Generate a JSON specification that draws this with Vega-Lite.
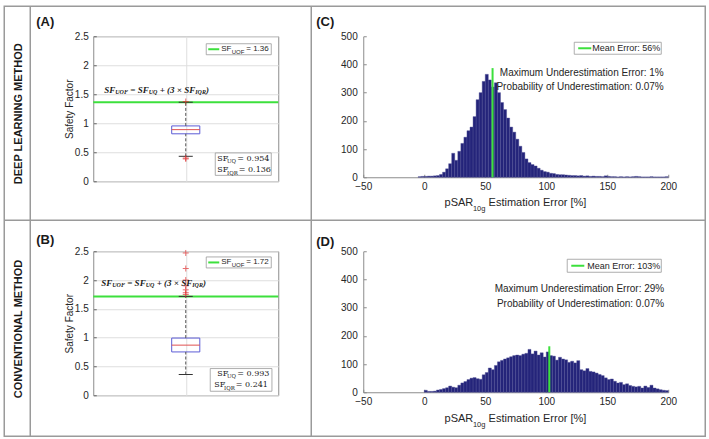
{
"$schema": "https://vega.github.io/schema/vega-lite/v6.json",
"background": "white",
"padding": {"left": 2.25, "top": 4.25, "right": 0, "bottom": 0},
"bounds": "flush",
"align": "each",
"columns": 2,
"spacing": {"row": 70, "column": 85},
"config": {"view": {"stroke": null}, "text": {"font": "Liberation Sans"}, "axis": {"labelOverlap": false}},
"datasets": {
"boxA": [{"q1": 0.818, "med": 0.89, "q3": 0.954, "lo": 0.43, "hi": 1.362}],
"boxB": [{"q1": 0.752, "med": 0.87, "q3": 0.993, "lo": 0.36, "hi": 1.716}],
"outA": [{"v": 1.375}, {"v": 0.4}, {"v": 0.385}],
"outB": [{"v": 1.75}, {"v": 1.78}, {"v": 1.83}, {"v": 1.9}, {"v": 2.0}, {"v": 2.2}, {"v": 2.47}],
"histC": [{"lo":-5,"hi":-2.5,"n":2},{"lo":-2.5,"hi":0,"n":3},{"lo":0,"hi":2.5,"n":3},{"lo":2.5,"hi":5,"n":4},{"lo":5,"hi":7.5,"n":4},{"lo":7.5,"hi":10,"n":5},{"lo":10,"hi":12.5,"n":6},{"lo":12.5,"hi":15,"n":10},{"lo":15,"hi":17.5,"n":18},{"lo":17.5,"hi":20,"n":30},{"lo":20,"hi":22.5,"n":48},{"lo":22.5,"hi":25,"n":85},{"lo":25,"hi":27.5,"n":60},{"lo":27.5,"hi":30,"n":92},{"lo":30,"hi":32.5,"n":120},{"lo":32.5,"hi":35,"n":142},{"lo":35,"hi":37.5,"n":165},{"lo":37.5,"hi":40,"n":178},{"lo":40,"hi":42.5,"n":215},{"lo":42.5,"hi":45,"n":275},{"lo":45,"hi":47.5,"n":300},{"lo":47.5,"hi":50,"n":340},{"lo":50,"hi":52.5,"n":365},{"lo":52.5,"hi":55,"n":345},{"lo":55,"hi":57.5,"n":320},{"lo":57.5,"hi":60,"n":335},{"lo":60,"hi":62.5,"n":300},{"lo":62.5,"hi":65,"n":265},{"lo":65,"hi":67.5,"n":240},{"lo":67.5,"hi":70,"n":210},{"lo":70,"hi":72.5,"n":178},{"lo":72.5,"hi":75,"n":160},{"lo":75,"hi":77.5,"n":135},{"lo":77.5,"hi":80,"n":110},{"lo":80,"hi":82.5,"n":88},{"lo":82.5,"hi":85,"n":65},{"lo":85,"hi":87.5,"n":52},{"lo":87.5,"hi":90,"n":45},{"lo":90,"hi":92.5,"n":40},{"lo":92.5,"hi":95,"n":32},{"lo":95,"hi":97.5,"n":25},{"lo":97.5,"hi":100,"n":20},{"lo":100,"hi":102.5,"n":18},{"lo":102.5,"hi":105,"n":14},{"lo":105,"hi":107.5,"n":13},{"lo":107.5,"hi":110,"n":10},{"lo":110,"hi":112.5,"n":9},{"lo":112.5,"hi":115,"n":9},{"lo":115,"hi":117.5,"n":8},{"lo":117.5,"hi":120,"n":7},{"lo":120,"hi":122.5,"n":6},{"lo":122.5,"hi":125,"n":6},{"lo":125,"hi":127.5,"n":5},{"lo":127.5,"hi":130,"n":6},{"lo":130,"hi":132.5,"n":4},{"lo":132.5,"hi":135,"n":5},{"lo":135,"hi":137.5,"n":3},{"lo":137.5,"hi":140,"n":4},{"lo":140,"hi":142.5,"n":3},{"lo":142.5,"hi":145,"n":3},{"lo":145,"hi":147.5,"n":2},{"lo":147.5,"hi":150,"n":5},{"lo":150,"hi":152.5,"n":3},{"lo":152.5,"hi":155,"n":2},{"lo":155,"hi":157.5,"n":2},{"lo":157.5,"hi":160,"n":1},{"lo":160,"hi":162.5,"n":2},{"lo":162.5,"hi":165,"n":1},{"lo":165,"hi":167.5,"n":2},{"lo":167.5,"hi":170,"n":1},{"lo":170,"hi":172.5,"n":2},{"lo":172.5,"hi":175,"n":3},{"lo":175,"hi":177.5,"n":2},{"lo":177.5,"hi":180,"n":1},{"lo":180,"hi":182.5,"n":1},{"lo":182.5,"hi":185,"n":1},{"lo":185,"hi":187.5,"n":2},{"lo":187.5,"hi":190,"n":1},{"lo":190,"hi":192.5,"n":1},{"lo":192.5,"hi":195,"n":1},{"lo":195,"hi":197.5,"n":1},{"lo":197.5,"hi":200,"n":2}],
"histD": [{"lo":0,"hi":2.5,"n":7},{"lo":2.5,"hi":5,"n":3},{"lo":5,"hi":7.5,"n":3},{"lo":7.5,"hi":10,"n":4},{"lo":10,"hi":12.5,"n":8},{"lo":12.5,"hi":15,"n":10},{"lo":15,"hi":17.5,"n":13},{"lo":17.5,"hi":20,"n":16},{"lo":20,"hi":22.5,"n":22},{"lo":22.5,"hi":25,"n":18},{"lo":25,"hi":27.5,"n":16},{"lo":27.5,"hi":30,"n":25},{"lo":30,"hi":32.5,"n":33},{"lo":32.5,"hi":35,"n":38},{"lo":35,"hi":37.5,"n":45},{"lo":37.5,"hi":40,"n":50},{"lo":40,"hi":42.5,"n":52},{"lo":42.5,"hi":45,"n":48},{"lo":45,"hi":47.5,"n":46},{"lo":47.5,"hi":50,"n":62},{"lo":50,"hi":52.5,"n":70},{"lo":52.5,"hi":55,"n":86},{"lo":55,"hi":57.5,"n":80},{"lo":57.5,"hi":60,"n":95},{"lo":60,"hi":62.5,"n":108},{"lo":62.5,"hi":65,"n":113},{"lo":65,"hi":67.5,"n":118},{"lo":67.5,"hi":70,"n":122},{"lo":70,"hi":72.5,"n":126},{"lo":72.5,"hi":75,"n":130},{"lo":75,"hi":77.5,"n":132},{"lo":77.5,"hi":80,"n":130},{"lo":80,"hi":82.5,"n":135},{"lo":82.5,"hi":85,"n":138},{"lo":85,"hi":87.5,"n":152},{"lo":87.5,"hi":90,"n":136},{"lo":90,"hi":92.5,"n":146},{"lo":92.5,"hi":95,"n":132},{"lo":95,"hi":97.5,"n":140},{"lo":97.5,"hi":100,"n":125},{"lo":100,"hi":102.5,"n":143},{"lo":102.5,"hi":105,"n":130},{"lo":105,"hi":107.5,"n":128},{"lo":107.5,"hi":110,"n":114},{"lo":110,"hi":112.5,"n":124},{"lo":112.5,"hi":115,"n":118},{"lo":115,"hi":117.5,"n":115},{"lo":117.5,"hi":120,"n":106},{"lo":120,"hi":122.5,"n":110},{"lo":122.5,"hi":125,"n":104},{"lo":125,"hi":127.5,"n":112},{"lo":127.5,"hi":130,"n":80},{"lo":130,"hi":132.5,"n":76},{"lo":132.5,"hi":135,"n":84},{"lo":135,"hi":137.5,"n":74},{"lo":137.5,"hi":140,"n":72},{"lo":140,"hi":142.5,"n":68},{"lo":142.5,"hi":145,"n":63},{"lo":145,"hi":147.5,"n":59},{"lo":147.5,"hi":150,"n":51},{"lo":150,"hi":152.5,"n":45},{"lo":152.5,"hi":155,"n":47},{"lo":155,"hi":157.5,"n":39},{"lo":157.5,"hi":160,"n":33},{"lo":160,"hi":162.5,"n":35},{"lo":162.5,"hi":165,"n":27},{"lo":165,"hi":167.5,"n":30},{"lo":167.5,"hi":170,"n":24},{"lo":170,"hi":172.5,"n":21},{"lo":172.5,"hi":175,"n":19},{"lo":175,"hi":177.5,"n":21},{"lo":177.5,"hi":180,"n":15},{"lo":180,"hi":182.5,"n":22},{"lo":182.5,"hi":185,"n":17},{"lo":185,"hi":187.5,"n":25},{"lo":187.5,"hi":190,"n":15},{"lo":190,"hi":192.5,"n":12},{"lo":192.5,"hi":195,"n":9},{"lo":195,"hi":197.5,"n":7},{"lo":197.5,"hi":200,"n":6}]
},
"concat": [
{
"width": 185, "height": 145,
"view": {"stroke": "#8c8c8c", "strokeWidth": 1},
"data": {"values": [{}]},
"layer": [
{"mark": {"type": "rule", "color": "#3ce03c", "strokeWidth": 2},
 "encoding": {
  "x": {"datum": 0, "type": "quantitative", "scale": {"domain": [0, 1], "nice": false, "zero": false}, "axis": {"values": [0.5], "tickCount": 20, "grid": true, "gridColor": "#dedede", "labels": false, "ticks": false, "domain": false, "title": null}},
  "x2": {"datum": 1},
  "y": {"datum": 1.362, "type": "quantitative", "scale": {"domain": [0, 2.5], "nice": false, "zero": false}, "axis": {"values": [0, 0.5, 1, 1.5, 2, 2.5], "tickCount": 20, "format": ".1~f", "grid": true, "gridColor": "#dedede", "domain": false, "tickSize": -3, "tickColor": "#666666", "labelPadding": 8, "labelFlush": false, "labelOverlap": false, "labelFont": "Liberation Sans", "labelFontSize": 10, "labelColor": "#262626", "title": "Safety Factor", "titleFont": "Liberation Sans", "titleFontSize": 10, "titleFontWeight": "normal", "titleColor": "#262626", "titlePadding": 0}}
 }},
{"data": {"name": "boxA"}, "mark": {"type": "rect", "fillOpacity": 0, "stroke": "#5c5cd6", "strokeWidth": 1},
 "encoding": {"x": {"datum": 0.424, "type": "quantitative"}, "x2": {"datum": 0.576}, "y": {"field": "q1", "type": "quantitative"}, "y2": {"field": "q3"}}},
{"data": {"name": "boxA"}, "mark": {"type": "rule", "color": "#e05050", "strokeWidth": 1},
 "encoding": {"x": {"datum": 0.424, "type": "quantitative"}, "x2": {"datum": 0.576}, "y": {"field": "med", "type": "quantitative"}}},
{"data": {"name": "boxA"}, "mark": {"type": "rule", "color": "#555555", "strokeWidth": 1, "strokeDash": [3, 2]},
 "encoding": {"x": {"datum": 0.5, "type": "quantitative"}, "y": {"field": "q3", "type": "quantitative"}, "y2": {"field": "hi"}}},
{"data": {"name": "boxA"}, "mark": {"type": "rule", "color": "#555555", "strokeWidth": 1, "strokeDash": [3, 2]},
 "encoding": {"x": {"datum": 0.5, "type": "quantitative"}, "y": {"field": "lo", "type": "quantitative"}, "y2": {"field": "q1"}}},
{"data": {"name": "boxA"}, "mark": {"type": "rule", "color": "#333333", "strokeWidth": 1},
 "encoding": {"x": {"datum": 0.462, "type": "quantitative"}, "x2": {"datum": 0.538}, "y": {"field": "hi", "type": "quantitative"}}},
{"data": {"name": "boxA"}, "mark": {"type": "rule", "color": "#333333", "strokeWidth": 1},
 "encoding": {"x": {"datum": 0.462, "type": "quantitative"}, "x2": {"datum": 0.538}, "y": {"field": "lo", "type": "quantitative"}}},
{"data": {"name": "outA"}, "mark": {"type": "point", "shape": "M-1,0H1M0,-1V1", "size": 36, "filled": false, "color": "#e03030", "strokeWidth": 1},
 "encoding": {"x": {"datum": 0.5, "type": "quantitative"}, "y": {"field": "v", "type": "quantitative"}}},
{"mark": {"type": "text", "text": "SF", "align": "left", "baseline": "middle", "font": "Liberation Serif", "fontSize": 9, "fontStyle": "italic", "fontWeight": "bold", "color": "#1a1a1a", "dx": 0},
 "encoding": {"x": {"datum": 0.0595, "type": "quantitative"}, "y": {"datum": 1.581, "type": "quantitative"}}},
{"mark": {"type": "text", "text": "UOF", "align": "left", "baseline": "middle", "font": "Liberation Serif", "fontSize": 6, "fontStyle": "italic", "fontWeight": "bold", "color": "#1a1a1a", "dx": 11, "dy": 2.5},
 "encoding": {"x": {"datum": 0.0595, "type": "quantitative"}, "y": {"datum": 1.581, "type": "quantitative"}}},
{"mark": {"type": "text", "text": "= SF", "align": "left", "baseline": "middle", "font": "Liberation Serif", "fontSize": 9, "fontStyle": "italic", "fontWeight": "bold", "color": "#1a1a1a", "dx": 26},
 "encoding": {"x": {"datum": 0.0595, "type": "quantitative"}, "y": {"datum": 1.581, "type": "quantitative"}}},
{"mark": {"type": "text", "text": "UQ", "align": "left", "baseline": "middle", "font": "Liberation Serif", "fontSize": 6, "fontStyle": "italic", "fontWeight": "bold", "color": "#1a1a1a", "dx": 44.5, "dy": 2.5},
 "encoding": {"x": {"datum": 0.0595, "type": "quantitative"}, "y": {"datum": 1.581, "type": "quantitative"}}},
{"mark": {"type": "text", "text": "+ (3 × SF", "align": "left", "baseline": "middle", "font": "Liberation Serif", "fontSize": 9, "fontStyle": "italic", "fontWeight": "bold", "color": "#1a1a1a", "dx": 55.4},
 "encoding": {"x": {"datum": 0.0595, "type": "quantitative"}, "y": {"datum": 1.581, "type": "quantitative"}}},
{"mark": {"type": "text", "text": "IQR", "align": "left", "baseline": "middle", "font": "Liberation Serif", "fontSize": 6, "fontStyle": "italic", "fontWeight": "bold", "color": "#1a1a1a", "dx": 91, "dy": 2.5},
 "encoding": {"x": {"datum": 0.0595, "type": "quantitative"}, "y": {"datum": 1.581, "type": "quantitative"}}},
{"mark": {"type": "text", "text": ")", "align": "left", "baseline": "middle", "font": "Liberation Serif", "fontSize": 9, "fontStyle": "italic", "fontWeight": "bold", "color": "#1a1a1a", "dx": 101.8},
 "encoding": {"x": {"datum": 0.0595, "type": "quantitative"}, "y": {"datum": 1.581, "type": "quantitative"}}},
{"mark": {"type": "rect", "fill": "white", "stroke": "#999999", "strokeWidth": 0.8},
 "encoding": {"x": {"datum": 0.6108, "type": "quantitative"}, "x2": {"datum": 0.9622}, "y": {"datum": 2.3708, "type": "quantitative"}, "y2": {"datum": 2.1812}}},
{"mark": {"type": "rule", "color": "#3ce03c", "strokeWidth": 2},
 "encoding": {"x": {"datum": 0.6216, "type": "quantitative"}, "x2": {"datum": 0.6811}, "y": {"datum": 2.276, "type": "quantitative"}}},
{"mark": {"type": "text", "text": "SF", "align": "left", "baseline": "middle", "fontSize": 8, "color": "#262626"},
 "encoding": {"x": {"datum": 0.6919, "type": "quantitative"}, "y": {"datum": 2.276, "type": "quantitative"}}},
{"mark": {"type": "text", "text": "UOF", "align": "left", "baseline": "middle", "fontSize": 6, "color": "#262626", "dx": 10.4, "dy": 2.5},
 "encoding": {"x": {"datum": 0.6919, "type": "quantitative"}, "y": {"datum": 2.276, "type": "quantitative"}}},
{"mark": {"type": "text", "text": "= 1.36", "align": "left", "baseline": "middle", "fontSize": 8, "color": "#262626", "dx": 25},
 "encoding": {"x": {"datum": 0.6919, "type": "quantitative"}, "y": {"datum": 2.276, "type": "quantitative"}}},
{"mark": {"type": "rect", "fill": "white", "stroke": "#999999", "strokeWidth": 0.8},
 "encoding": {"x": {"datum": 0.6595, "type": "quantitative"}, "x2": {"datum": 0.9622}, "y": {"datum": 0.4879, "type": "quantitative"}, "y2": {"datum": 0.1017}}},
{"mark": {"type": "text", "text": "SF", "align": "left", "baseline": "middle", "font": "DejaVu Serif", "fontSize": 8, "color": "#1a1a1a"},
 "encoding": {"x": {"datum": 0.6703, "type": "quantitative"}, "y": {"datum": 0.3914, "type": "quantitative"}}},
{"mark": {"type": "text", "text": "UQ", "align": "left", "baseline": "middle", "font": "DejaVu Serif", "fontSize": 5.5, "color": "#1a1a1a", "dx": 9.7, "dy": 2.5},
 "encoding": {"x": {"datum": 0.6703, "type": "quantitative"}, "y": {"datum": 0.3914, "type": "quantitative"}}},
{"mark": {"type": "text", "text": "= 0.954", "align": "left", "baseline": "middle", "font": "DejaVu Serif", "fontSize": 8, "color": "#1a1a1a", "dx": 20},
 "encoding": {"x": {"datum": 0.6703, "type": "quantitative"}, "y": {"datum": 0.3914, "type": "quantitative"}}},
{"mark": {"type": "text", "text": "SF", "align": "left", "baseline": "middle", "font": "DejaVu Serif", "fontSize": 8, "color": "#1a1a1a"},
 "encoding": {"x": {"datum": 0.6703, "type": "quantitative"}, "y": {"datum": 0.1897, "type": "quantitative"}}},
{"mark": {"type": "text", "text": "IQR", "align": "left", "baseline": "middle", "font": "DejaVu Serif", "fontSize": 5.5, "color": "#1a1a1a", "dx": 9.7, "dy": 2.5},
 "encoding": {"x": {"datum": 0.6703, "type": "quantitative"}, "y": {"datum": 0.1897, "type": "quantitative"}}},
{"mark": {"type": "text", "text": "= 0.136", "align": "left", "baseline": "middle", "font": "DejaVu Serif", "fontSize": 8, "color": "#1a1a1a", "dx": 21.5},
 "encoding": {"x": {"datum": 0.6703, "type": "quantitative"}, "y": {"datum": 0.1897, "type": "quantitative"}}},
{"mark": {"type": "rect", "fillOpacity": 0, "stroke": "#9a9a9a", "strokeWidth": 1.5},
 "encoding": {"x": {"datum": -0.4811, "type": "quantitative"}, "x2": {"datum": 3.3081}, "y": {"datum": 3.0172, "type": "quantitative"}, "y2": {"datum": -4.3966}}},
{"mark": {"type": "rule", "color": "#9a9a9a", "strokeWidth": 1.5},
 "encoding": {"x": {"datum": -0.3405, "type": "quantitative"}, "y": {"datum": 3.0172, "type": "quantitative"}, "y2": {"datum": -4.3966}}},
{"mark": {"type": "rule", "color": "#9a9a9a", "strokeWidth": 1.5},
 "encoding": {"x": {"datum": 1.1784, "type": "quantitative"}, "y": {"datum": 3.0172, "type": "quantitative"}, "y2": {"datum": -4.3966}}},
{"mark": {"type": "rule", "color": "#9a9a9a", "strokeWidth": 1.5},
 "encoding": {"x": {"datum": -0.4811, "type": "quantitative"}, "x2": {"datum": 3.3081}, "y": {"datum": -0.6724, "type": "quantitative"}}},
{"mark": {"type": "text", "text": "DEEP LEARNING METHOD", "angle": 270, "align": "center", "baseline": "middle", "fontSize": 11, "fontWeight": "bold", "color": "#1a1a1a"},
 "encoding": {"x": {"datum": -0.4016, "type": "quantitative"}, "y": {"datum": 1.1638, "type": "quantitative"}}},
{"mark": {"type": "text", "text": "CONVENTIONAL METHOD", "angle": 270, "align": "center", "baseline": "middle", "fontSize": 11, "fontWeight": "bold", "color": "#1a1a1a"},
 "encoding": {"x": {"datum": -0.4016, "type": "quantitative"}, "y": {"datum": -2.5466, "type": "quantitative"}}},
{"mark": {"type": "text", "text": "(A)", "align": "left", "baseline": "middle", "fontSize": 13, "fontWeight": "bold", "color": "#1a1a1a"},
 "encoding": {"x": {"datum": -0.3081, "type": "quantitative"}, "y": {"datum": 2.7466, "type": "quantitative"}}},
{"mark": {"type": "text", "text": "(B)", "align": "left", "baseline": "middle", "fontSize": 13, "fontWeight": "bold", "color": "#1a1a1a"},
 "encoding": {"x": {"datum": -0.3081, "type": "quantitative"}, "y": {"datum": -1.0172, "type": "quantitative"}}},
{"mark": {"type": "text", "text": "(C)", "align": "left", "baseline": "middle", "fontSize": 13, "fontWeight": "bold", "color": "#1a1a1a"},
 "encoding": {"x": {"datum": 1.2054, "type": "quantitative"}, "y": {"datum": 2.7466, "type": "quantitative"}}},
{"mark": {"type": "text", "text": "(D)", "align": "left", "baseline": "middle", "fontSize": 13, "fontWeight": "bold", "color": "#1a1a1a"},
 "encoding": {"x": {"datum": 1.2054, "type": "quantitative"}, "y": {"datum": -1.0517, "type": "quantitative"}}}
]
},
{
"width": 305, "height": 141,
"data": {"values": [{}]},
"layer": [
{"data": {"name": "histC"}, "mark": {"type": "rect", "fill": "#24247a", "stroke": "#4f4f96", "strokeWidth": 0.4},
 "encoding": {
  "x": {"field": "lo", "type": "quantitative", "scale": {"domain": [-50, 200], "nice": false, "zero": false}, "axis": {"values": [-50, 0, 50, 100, 150, 200], "tickCount": 20, "format": "d", "grid": false, "domainColor": "#8c8c8c", "tickSize": -3, "tickColor": "#8c8c8c", "labelPadding": 7, "labelFlush": false, "labelOverlap": false, "labelFont": "Liberation Sans", "labelFontSize": 10, "labelColor": "#262626", "title": null}},
  "x2": {"field": "hi"},
  "y": {"field": "n", "type": "quantitative", "scale": {"domain": [0, 500], "nice": false, "zero": false}, "axis": {"values": [0, 100, 200, 300, 400, 500], "tickCount": 20, "format": "d", "grid": false, "domainColor": "#8c8c8c", "tickSize": -3, "tickColor": "#8c8c8c", "labelPadding": 9, "labelFlush": false, "labelOverlap": false, "labelFont": "Liberation Sans", "labelFontSize": 10, "labelColor": "#262626", "title": null}},
  "y2": {"datum": 0}
 }},
{"mark": {"type": "rule", "color": "#3ce03c", "strokeWidth": 2},
 "encoding": {"x": {"datum": 56, "type": "quantitative"}, "y": {"datum": 0, "type": "quantitative"}, "y2": {"datum": 387}}},
{"mark": {"type": "rect", "fill": "white", "stroke": "#999999", "strokeWidth": 0.8},
 "encoding": {"x": {"datum": 122.95, "type": "quantitative"}, "x2": {"datum": 194.27}, "y": {"datum": 478.7, "type": "quantitative"}, "y2": {"datum": 436.2}}},
{"mark": {"type": "rule", "color": "#3ce03c", "strokeWidth": 2},
 "encoding": {"x": {"datum": 126.2, "type": "quantitative"}, "x2": {"datum": 136.9}, "y": {"datum": 457.4, "type": "quantitative"}}},
{"mark": {"type": "text", "text": "Mean Error: 56%", "align": "left", "baseline": "middle", "fontSize": 9, "color": "#262626"},
 "encoding": {"x": {"datum": 137.7, "type": "quantitative"}, "y": {"datum": 457.4, "type": "quantitative"}}},
{"mark": {"type": "text", "text": "Maximum Underestimation Error: 1%", "align": "right", "baseline": "middle", "fontSize": 10, "color": "#262626"},
 "encoding": {"x": {"datum": 196.3, "type": "quantitative"}, "y": {"datum": 369.8, "type": "quantitative"}}},
{"mark": {"type": "text", "text": "Probability of Underestimation: 0.07%", "align": "right", "baseline": "middle", "fontSize": 10, "color": "#262626"},
 "encoding": {"x": {"datum": 196.3, "type": "quantitative"}, "y": {"datum": 319.1, "type": "quantitative"}}},
{"mark": {"type": "text", "text": "pSAR", "align": "left", "baseline": "middle", "fontSize": 11, "color": "#262626"},
 "encoding": {"x": {"datum": 16.64, "type": "quantitative"}, "y": {"datum": -91.1, "type": "quantitative"}}},
{"mark": {"type": "text", "text": "10g", "align": "left", "baseline": "middle", "fontSize": 7.5, "color": "#262626"},
 "encoding": {"x": {"datum": 39.92, "type": "quantitative"}, "y": {"datum": -113.5, "type": "quantitative"}}},
{"mark": {"type": "text", "text": "Estimation Error [%]", "align": "left", "baseline": "middle", "fontSize": 11, "color": "#262626"},
 "encoding": {"x": {"datum": 52.71, "type": "quantitative"}, "y": {"datum": -91.1, "type": "quantitative"}}}
]
},
{
"width": 185, "height": 144,
"view": {"stroke": "#8c8c8c", "strokeWidth": 1},
"data": {"values": [{}]},
"layer": [
{"mark": {"type": "rule", "color": "#3ce03c", "strokeWidth": 2},
 "encoding": {
  "x": {"datum": 0, "type": "quantitative", "scale": {"domain": [0, 1], "nice": false, "zero": false}, "axis": {"values": [0.5], "tickCount": 20, "grid": true, "gridColor": "#dedede", "labels": false, "ticks": false, "domain": false, "title": null}},
  "x2": {"datum": 1},
  "y": {"datum": 1.716, "type": "quantitative", "scale": {"domain": [0, 2.5], "nice": false, "zero": false}, "axis": {"values": [0, 0.5, 1, 1.5, 2, 2.5], "tickCount": 20, "format": ".1~f", "grid": true, "gridColor": "#dedede", "domain": false, "tickSize": -3, "tickColor": "#666666", "labelPadding": 8, "labelFlush": false, "labelOverlap": false, "labelFont": "Liberation Sans", "labelFontSize": 10, "labelColor": "#262626", "title": "Safety Factor", "titleFont": "Liberation Sans", "titleFontSize": 10, "titleFontWeight": "normal", "titleColor": "#262626", "titlePadding": 0}}
 }},
{"data": {"name": "boxB"}, "mark": {"type": "rect", "fillOpacity": 0, "stroke": "#5c5cd6", "strokeWidth": 1},
 "encoding": {"x": {"datum": 0.424, "type": "quantitative"}, "x2": {"datum": 0.576}, "y": {"field": "q1", "type": "quantitative"}, "y2": {"field": "q3"}}},
{"data": {"name": "boxB"}, "mark": {"type": "rule", "color": "#e05050", "strokeWidth": 1},
 "encoding": {"x": {"datum": 0.424, "type": "quantitative"}, "x2": {"datum": 0.576}, "y": {"field": "med", "type": "quantitative"}}},
{"data": {"name": "boxB"}, "mark": {"type": "rule", "color": "#555555", "strokeWidth": 1, "strokeDash": [3, 2]},
 "encoding": {"x": {"datum": 0.5, "type": "quantitative"}, "y": {"field": "q3", "type": "quantitative"}, "y2": {"field": "hi"}}},
{"data": {"name": "boxB"}, "mark": {"type": "rule", "color": "#555555", "strokeWidth": 1, "strokeDash": [3, 2]},
 "encoding": {"x": {"datum": 0.5, "type": "quantitative"}, "y": {"field": "lo", "type": "quantitative"}, "y2": {"field": "q1"}}},
{"data": {"name": "boxB"}, "mark": {"type": "rule", "color": "#333333", "strokeWidth": 1},
 "encoding": {"x": {"datum": 0.462, "type": "quantitative"}, "x2": {"datum": 0.538}, "y": {"field": "hi", "type": "quantitative"}}},
{"data": {"name": "boxB"}, "mark": {"type": "rule", "color": "#333333", "strokeWidth": 1},
 "encoding": {"x": {"datum": 0.462, "type": "quantitative"}, "x2": {"datum": 0.538}, "y": {"field": "lo", "type": "quantitative"}}},
{"data": {"name": "outB"}, "mark": {"type": "point", "shape": "M-1,0H1M0,-1V1", "size": 36, "filled": false, "color": "#e03030", "strokeWidth": 1},
 "encoding": {"x": {"datum": 0.5, "type": "quantitative"}, "y": {"field": "v", "type": "quantitative"}}},
{"mark": {"type": "text", "text": "SF", "align": "left", "baseline": "middle", "font": "Liberation Serif", "fontSize": 9, "fontStyle": "italic", "fontWeight": "bold", "color": "#1a1a1a", "dx": 0},
 "encoding": {"x": {"datum": 0.0432, "type": "quantitative"}, "y": {"datum": 1.9497, "type": "quantitative"}}},
{"mark": {"type": "text", "text": "UOF", "align": "left", "baseline": "middle", "font": "Liberation Serif", "fontSize": 6, "fontStyle": "italic", "fontWeight": "bold", "color": "#1a1a1a", "dx": 11, "dy": 2.5},
 "encoding": {"x": {"datum": 0.0432, "type": "quantitative"}, "y": {"datum": 1.9497, "type": "quantitative"}}},
{"mark": {"type": "text", "text": "= SF", "align": "left", "baseline": "middle", "font": "Liberation Serif", "fontSize": 9, "fontStyle": "italic", "fontWeight": "bold", "color": "#1a1a1a", "dx": 26},
 "encoding": {"x": {"datum": 0.0432, "type": "quantitative"}, "y": {"datum": 1.9497, "type": "quantitative"}}},
{"mark": {"type": "text", "text": "UQ", "align": "left", "baseline": "middle", "font": "Liberation Serif", "fontSize": 6, "fontStyle": "italic", "fontWeight": "bold", "color": "#1a1a1a", "dx": 44.5, "dy": 2.5},
 "encoding": {"x": {"datum": 0.0432, "type": "quantitative"}, "y": {"datum": 1.9497, "type": "quantitative"}}},
{"mark": {"type": "text", "text": "+ (3 × SF", "align": "left", "baseline": "middle", "font": "Liberation Serif", "fontSize": 9, "fontStyle": "italic", "fontWeight": "bold", "color": "#1a1a1a", "dx": 55.4},
 "encoding": {"x": {"datum": 0.0432, "type": "quantitative"}, "y": {"datum": 1.9497, "type": "quantitative"}}},
{"mark": {"type": "text", "text": "IQR", "align": "left", "baseline": "middle", "font": "Liberation Serif", "fontSize": 6, "fontStyle": "italic", "fontWeight": "bold", "color": "#1a1a1a", "dx": 91, "dy": 2.5},
 "encoding": {"x": {"datum": 0.0432, "type": "quantitative"}, "y": {"datum": 1.9497, "type": "quantitative"}}},
{"mark": {"type": "text", "text": ")", "align": "left", "baseline": "middle", "font": "Liberation Serif", "fontSize": 9, "fontStyle": "italic", "fontWeight": "bold", "color": "#1a1a1a", "dx": 101.8},
 "encoding": {"x": {"datum": 0.0432, "type": "quantitative"}, "y": {"datum": 1.9497, "type": "quantitative"}}},
{"mark": {"type": "rect", "fill": "white", "stroke": "#999999", "strokeWidth": 0.8},
 "encoding": {"x": {"datum": 0.6108, "type": "quantitative"}, "x2": {"datum": 0.9622}, "y": {"datum": 2.4011, "type": "quantitative"}, "y2": {"datum": 2.2101}}},
{"mark": {"type": "rule", "color": "#3ce03c", "strokeWidth": 2},
 "encoding": {"x": {"datum": 0.6216, "type": "quantitative"}, "x2": {"datum": 0.6811}, "y": {"datum": 2.3056, "type": "quantitative"}}},
{"mark": {"type": "text", "text": "SF", "align": "left", "baseline": "middle", "fontSize": 8, "color": "#262626"},
 "encoding": {"x": {"datum": 0.6919, "type": "quantitative"}, "y": {"datum": 2.3056, "type": "quantitative"}}},
{"mark": {"type": "text", "text": "UOF", "align": "left", "baseline": "middle", "fontSize": 6, "color": "#262626", "dx": 10.4, "dy": 2.5},
 "encoding": {"x": {"datum": 0.6919, "type": "quantitative"}, "y": {"datum": 2.3056, "type": "quantitative"}}},
{"mark": {"type": "text", "text": "= 1.72", "align": "left", "baseline": "middle", "fontSize": 8, "color": "#262626", "dx": 25},
 "encoding": {"x": {"datum": 0.6919, "type": "quantitative"}, "y": {"datum": 2.3056, "type": "quantitative"}}},
{"mark": {"type": "rect", "fill": "white", "stroke": "#999999", "strokeWidth": 0.8},
 "encoding": {"x": {"datum": 0.6324, "type": "quantitative"}, "x2": {"datum": 0.9659}, "y": {"datum": 0.4635, "type": "quantitative"}, "y2": {"datum": 0.0694}}},
{"mark": {"type": "text", "text": "SF", "align": "left", "baseline": "middle", "font": "DejaVu Serif", "fontSize": 8, "color": "#1a1a1a"},
 "encoding": {"x": {"datum": 0.6703, "type": "quantitative"}, "y": {"datum": 0.3767, "type": "quantitative"}}},
{"mark": {"type": "text", "text": "UQ", "align": "left", "baseline": "middle", "font": "DejaVu Serif", "fontSize": 5.5, "color": "#1a1a1a", "dx": 9.7, "dy": 2.5},
 "encoding": {"x": {"datum": 0.6703, "type": "quantitative"}, "y": {"datum": 0.3767, "type": "quantitative"}}},
{"mark": {"type": "text", "text": "= 0.993", "align": "left", "baseline": "middle", "font": "DejaVu Serif", "fontSize": 8, "color": "#1a1a1a", "dx": 20},
 "encoding": {"x": {"datum": 0.6703, "type": "quantitative"}, "y": {"datum": 0.3767, "type": "quantitative"}}},
{"mark": {"type": "text", "text": "SF", "align": "left", "baseline": "middle", "font": "DejaVu Serif", "fontSize": 8, "color": "#1a1a1a"},
 "encoding": {"x": {"datum": 0.6541, "type": "quantitative"}, "y": {"datum": 0.1736, "type": "quantitative"}}},
{"mark": {"type": "text", "text": "IQR", "align": "left", "baseline": "middle", "font": "DejaVu Serif", "fontSize": 5.5, "color": "#1a1a1a", "dx": 9.7, "dy": 2.5},
 "encoding": {"x": {"datum": 0.6541, "type": "quantitative"}, "y": {"datum": 0.1736, "type": "quantitative"}}},
{"mark": {"type": "text", "text": "= 0.241", "align": "left", "baseline": "middle", "font": "DejaVu Serif", "fontSize": 8, "color": "#1a1a1a", "dx": 21.5},
 "encoding": {"x": {"datum": 0.6541, "type": "quantitative"}, "y": {"datum": 0.1736, "type": "quantitative"}}}
]
},
{
"width": 305, "height": 141,
"data": {"values": [{}]},
"layer": [
{"data": {"name": "histD"}, "mark": {"type": "rect", "fill": "#24247a", "stroke": "#4f4f96", "strokeWidth": 0.4},
 "encoding": {
  "x": {"field": "lo", "type": "quantitative", "scale": {"domain": [-50, 200], "nice": false, "zero": false}, "axis": {"values": [-50, 0, 50, 100, 150, 200], "tickCount": 20, "format": "d", "grid": false, "domainColor": "#8c8c8c", "tickSize": -3, "tickColor": "#8c8c8c", "labelPadding": 7, "labelFlush": false, "labelOverlap": false, "labelFont": "Liberation Sans", "labelFontSize": 10, "labelColor": "#262626", "title": null}},
  "x2": {"field": "hi"},
  "y": {"field": "n", "type": "quantitative", "scale": {"domain": [0, 500], "nice": false, "zero": false}, "axis": {"values": [0, 100, 200, 300, 400, 500], "tickCount": 20, "format": "d", "grid": false, "domainColor": "#8c8c8c", "tickSize": -3, "tickColor": "#8c8c8c", "labelPadding": 9, "labelFlush": false, "labelOverlap": false, "labelFont": "Liberation Sans", "labelFontSize": 10, "labelColor": "#262626", "title": null}},
  "y2": {"datum": 0}
 }},
{"mark": {"type": "rule", "color": "#3ce03c", "strokeWidth": 2},
 "encoding": {"x": {"datum": 102.5, "type": "quantitative"}, "y": {"datum": 0, "type": "quantitative"}, "y2": {"datum": 163}}},
{"mark": {"type": "rect", "fill": "white", "stroke": "#999999", "strokeWidth": 0.8},
 "encoding": {"x": {"datum": 117.2, "type": "quantitative"}, "x2": {"datum": 194.3}, "y": {"datum": 471.6, "type": "quantitative"}, "y2": {"datum": 425.5}}},
{"mark": {"type": "rule", "color": "#3ce03c", "strokeWidth": 2},
 "encoding": {"x": {"datum": 120.5, "type": "quantitative"}, "x2": {"datum": 131.2}, "y": {"datum": 448.6, "type": "quantitative"}}},
{"mark": {"type": "text", "text": "Mean Error: 103%", "align": "left", "baseline": "middle", "fontSize": 9, "color": "#262626"},
 "encoding": {"x": {"datum": 133.6, "type": "quantitative"}, "y": {"datum": 448.6, "type": "quantitative"}}},
{"mark": {"type": "text", "text": "Maximum Underestimation Error: 29%", "align": "right", "baseline": "middle", "fontSize": 10, "color": "#262626"},
 "encoding": {"x": {"datum": 196.7, "type": "quantitative"}, "y": {"datum": 366.3, "type": "quantitative"}}},
{"mark": {"type": "text", "text": "Probability of Underestimation: 0.07%", "align": "right", "baseline": "middle", "fontSize": 10, "color": "#262626"},
 "encoding": {"x": {"datum": 196.7, "type": "quantitative"}, "y": {"datum": 314.5, "type": "quantitative"}}},
{"mark": {"type": "text", "text": "pSAR", "align": "left", "baseline": "middle", "fontSize": 11, "color": "#262626"},
 "encoding": {"x": {"datum": 16.64, "type": "quantitative"}, "y": {"datum": -93.3, "type": "quantitative"}}},
{"mark": {"type": "text", "text": "10g", "align": "left", "baseline": "middle", "fontSize": 7.5, "color": "#262626"},
 "encoding": {"x": {"datum": 39.92, "type": "quantitative"}, "y": {"datum": -115.7, "type": "quantitative"}}},
{"mark": {"type": "text", "text": "Estimation Error [%]", "align": "left", "baseline": "middle", "fontSize": 11, "color": "#262626"},
 "encoding": {"x": {"datum": 52.71, "type": "quantitative"}, "y": {"datum": -93.3, "type": "quantitative"}}}
]
}
]
}
